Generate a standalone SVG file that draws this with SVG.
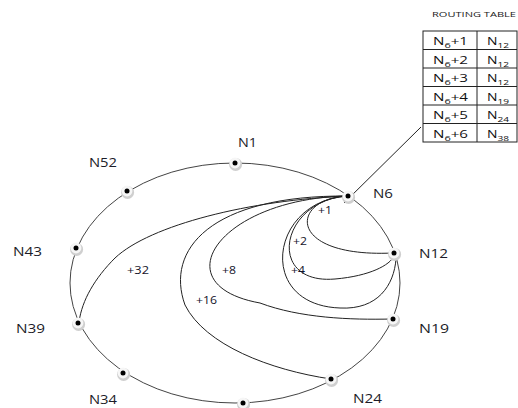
<svg xmlns="http://www.w3.org/2000/svg" xmlns:xlink="http://www.w3.org/1999/xlink" width="518" height="408" viewBox="0 0 518 408">
<style>
.ring{fill:none;stroke:#444;stroke-width:1}
.chord{fill:none;stroke:#222;stroke-width:1}
.lbl{font-family:"Open Sans","Liberation Sans",sans-serif;font-size:13px;fill:#1c1c28}
.hop{font-family:"Open Sans","Liberation Sans",sans-serif;font-size:10.5px;fill:#14142a}
.cell{font-family:"Open Sans","Liberation Sans",sans-serif;font-size:11px;fill:#111}
.sub{font-size:8px}
.title{font-family:"Open Sans","Liberation Sans",sans-serif;font-size:8px;fill:#222}
.tbl{fill:#fff;stroke:#222;stroke-width:1}
</style>
<defs>
<g id="dot">
<circle cx="0.6" cy="1.4" r="6.5" fill="#cfcfcf"/>
<circle cx="0" cy="0" r="5.4" fill="#f6f6f6"/>
<circle cx="0" cy="0" r="2.5" fill="#000"/>
</g>
</defs>
<g id="connectors">
<ellipse class="ring" cx="235" cy="283" rx="165" ry="120"/>
<path class="chord" d="M348,196 C290,198 285,258 393,253"/>
<path class="chord" d="M348,196 C280,200 265,285 335,279 C370,276 390,265 394,256"/>
<path class="chord" d="M348,196 C270,200 255,305 340,308 C378,310 394,285 396,259"/>
<path class="chord" d="M348,196 C220,198 160,285 260,303 C300,318 350,320 392,319"/>
<path class="chord" d="M348,196 C210,195 165,250 185,305 C205,345 270,370 331,379"/>
<path class="chord" d="M348,196 C250,200 150,225 115,258 C95,278 82,300 79,322"/>
<line class="chord" x1="344" y1="203" x2="421" y2="127"/>
</g>
<g id="N1"><use xlink:href="#dot" x="235" y="163"/><text class="lbl" x="238" y="147" textLength="19" lengthAdjust="spacingAndGlyphs">N1</text></g>
<g id="N6"><use xlink:href="#dot" x="348" y="196"/><text class="lbl" x="373" y="198" textLength="20" lengthAdjust="spacingAndGlyphs">N6</text></g>
<g id="N12"><use xlink:href="#dot" x="394" y="253"/><text class="lbl" x="419" y="258" textLength="29" lengthAdjust="spacingAndGlyphs">N12</text></g>
<g id="N19"><use xlink:href="#dot" x="393" y="319"/><text class="lbl" x="419" y="333" textLength="30" lengthAdjust="spacingAndGlyphs">N19</text></g>
<g id="N24"><use xlink:href="#dot" x="331" y="379"/><text class="lbl" x="353" y="403" textLength="29" lengthAdjust="spacingAndGlyphs">N24</text></g>
<g id="N29"><use xlink:href="#dot" x="243" y="403"/></g>
<g id="N34"><use xlink:href="#dot" x="123" y="373"/><text class="lbl" x="89" y="404" textLength="28" lengthAdjust="spacingAndGlyphs">N34</text></g>
<g id="N39"><use xlink:href="#dot" x="78" y="323"/><text class="lbl" x="16" y="333" textLength="29" lengthAdjust="spacingAndGlyphs">N39</text></g>
<g id="N43"><use xlink:href="#dot" x="76" y="248"/><text class="lbl" x="13" y="256" textLength="29" lengthAdjust="spacingAndGlyphs">N43</text></g>
<g id="N52"><use xlink:href="#dot" x="127" y="191"/><text class="lbl" x="89" y="167" textLength="28" lengthAdjust="spacingAndGlyphs">N52</text></g>
<g id="hops">
<text class="hop" x="318" y="214" textLength="14" lengthAdjust="spacingAndGlyphs">+1</text>
<text class="hop" x="293" y="245" textLength="14" lengthAdjust="spacingAndGlyphs">+2</text>
<text class="hop" x="291" y="274" textLength="14" lengthAdjust="spacingAndGlyphs">+4</text>
<text class="hop" x="222" y="274" textLength="14" lengthAdjust="spacingAndGlyphs">+8</text>
<text class="hop" x="196" y="304" textLength="21" lengthAdjust="spacingAndGlyphs">+16</text>
<text class="hop" x="127" y="274" textLength="22" lengthAdjust="spacingAndGlyphs">+32</text>
</g>
<g id="routing-table">
<text class="title" x="432" y="17" textLength="84" lengthAdjust="spacingAndGlyphs">ROUTING TABLE</text>
<rect class="tbl" x="423" y="31" width="94" height="111"/>
<line class="chord" x1="477" y1="31" x2="477" y2="142"/>
<line class="chord" x1="423" y1="49.5" x2="517" y2="49.5"/>
<line class="chord" x1="423" y1="68" x2="517" y2="68"/>
<line class="chord" x1="423" y1="86.5" x2="517" y2="86.5"/>
<line class="chord" x1="423" y1="105" x2="517" y2="105"/>
<line class="chord" x1="423" y1="123.5" x2="517" y2="123.5"/>
<text class="cell" x="433" y="45" textLength="35" lengthAdjust="spacingAndGlyphs">N<tspan class="sub" dy="3">6</tspan><tspan dy="-3">+1</tspan></text>
<text class="cell" x="433" y="63.5" textLength="35" lengthAdjust="spacingAndGlyphs">N<tspan class="sub" dy="3">6</tspan><tspan dy="-3">+2</tspan></text>
<text class="cell" x="433" y="82" textLength="35" lengthAdjust="spacingAndGlyphs">N<tspan class="sub" dy="3">6</tspan><tspan dy="-3">+3</tspan></text>
<text class="cell" x="433" y="100.5" textLength="35" lengthAdjust="spacingAndGlyphs">N<tspan class="sub" dy="3">6</tspan><tspan dy="-3">+4</tspan></text>
<text class="cell" x="433" y="119" textLength="35" lengthAdjust="spacingAndGlyphs">N<tspan class="sub" dy="3">6</tspan><tspan dy="-3">+5</tspan></text>
<text class="cell" x="433" y="137.5" textLength="35" lengthAdjust="spacingAndGlyphs">N<tspan class="sub" dy="3">6</tspan><tspan dy="-3">+6</tspan></text>
<text class="cell" x="487" y="45" textLength="22" lengthAdjust="spacingAndGlyphs">N<tspan class="sub" dy="3">12</tspan></text>
<text class="cell" x="487" y="63.5" textLength="22" lengthAdjust="spacingAndGlyphs">N<tspan class="sub" dy="3">12</tspan></text>
<text class="cell" x="487" y="82" textLength="22" lengthAdjust="spacingAndGlyphs">N<tspan class="sub" dy="3">12</tspan></text>
<text class="cell" x="487" y="100.5" textLength="22" lengthAdjust="spacingAndGlyphs">N<tspan class="sub" dy="3">19</tspan></text>
<text class="cell" x="487" y="119" textLength="22" lengthAdjust="spacingAndGlyphs">N<tspan class="sub" dy="3">24</tspan></text>
<text class="cell" x="487" y="137.5" textLength="22" lengthAdjust="spacingAndGlyphs">N<tspan class="sub" dy="3">38</tspan></text>
</g>
</svg>
